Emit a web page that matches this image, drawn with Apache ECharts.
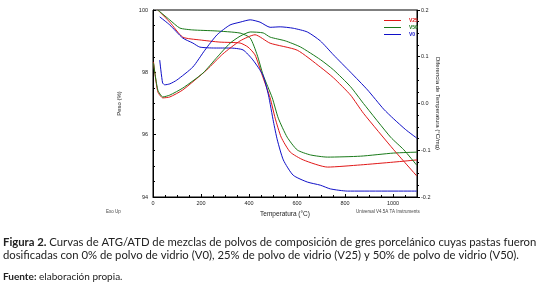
<!DOCTYPE html>
<html>
<head>
<meta charset="utf-8">
<script src="https://cdn.jsdelivr.net/npm/echarts@6/dist/echarts.min.js"></script>
<style>
  html, body { margin: 0; padding: 0; background: #fff; }
  #chart { width: 541px; height: 290px; }
</style>
</head>
<body>
<div id="chart"></div>
<script>
// ATG (peso %) - eje izquierdo
var tgV0T  = [28, 70, 124, 166, 195, 258, 321, 375, 416, 458, 481, 502, 518, 543, 584, 643, 697, 739, 810, 1099];
var tgV0   = [99.78, 99.52, 99.10, 98.94, 98.81, 98.78, 98.78, 98.72, 98.40, 97.91, 97.27, 96.41, 95.83, 95.19, 94.70, 94.48, 94.38, 94.26, 94.19, 94.19];
var tgV25T = [20, 70, 124, 195, 279, 363, 396, 425, 455, 488, 509, 534, 572, 626, 727, 865, 1003, 1100];
var tgV25  = [100.0, 99.61, 99.13, 99.04, 98.97, 98.94, 98.81, 98.56, 97.91, 97.18, 96.53, 95.92, 95.44, 95.19, 94.96, 95.03, 95.12, 95.19];
var tgV50T = [20, 70, 112, 166, 258, 363, 405, 434, 459, 497, 522, 559, 601, 656, 727, 865, 1003, 1100];
var tgV50  = [100.0, 99.68, 99.42, 99.36, 99.33, 99.26, 99.10, 98.56, 97.91, 97.18, 96.53, 95.92, 95.51, 95.35, 95.28, 95.31, 95.41, 95.44];

// ATD (diferencia de temperatura) - eje derecho
var dtaV0T  = [28, 40, 49, 70, 99, 166, 216, 267, 321, 363, 405, 446, 488, 530, 584, 643, 697, 752, 823, 894, 961, 1003, 1053, 1099];
var dtaV0   = [0.093, 0.044, 0.040, 0.042, 0.050, 0.078, 0.114, 0.147, 0.168, 0.174, 0.179, 0.174, 0.163, 0.164, 0.161, 0.153, 0.134, 0.104, 0.067, 0.029, -0.012, -0.033, -0.056, -0.074];
var dtaV25T = [2, 20, 41, 70, 124, 224, 291, 363, 425, 488, 601, 697, 752, 823, 877, 1003, 1099];
var dtaV25  = [0.089, 0.025, 0.012, 0.014, 0.029, 0.072, 0.106, 0.134, 0.147, 0.129, 0.114, 0.078, 0.055, 0.018, -0.021, -0.099, -0.155];
var dtaV50T = [2, 20, 41, 70, 124, 208, 267, 321, 363, 405, 459, 488, 551, 614, 697, 752, 823, 877, 990, 1045, 1099];
var dtaV50  = [0.087, 0.029, 0.014, 0.018, 0.033, 0.065, 0.099, 0.129, 0.144, 0.153, 0.151, 0.142, 0.134, 0.121, 0.094, 0.072, 0.036, 0.000, -0.072, -0.099, -0.132];

var pesoTicks = [94, 96, 98, 100];
var difTicks  = [-0.2, -0.1, 0.0, 0.1, 0.2];

var colV0 = '#1010c8', colV25 = '#e01818', colV50 = '#1a7a1a';

function pairs(t, v) {
    return t.map(function (x, i) { return [x, v[i]]; });
}

function serie(name, t, v, color, yIdx) {
    return {
        name: name,
        type: 'line',
        yAxisIndex: yIdx,
        showSymbol: false,
        smooth: 0.2,
        lineStyle: { color: color, width: 1 },
        itemStyle: { color: color },
        data: pairs(t, v),
        animation: false
    };
}

var myChart = echarts.init(document.getElementById('chart'));
var axisTxt = { color: '#222', fontSize: 5.5, fontFamily: 'Liberation Sans' };

var option = {
    backgroundColor: '#fff',
    grid: {
        left: 153, right: 124, top: 10, bottom: 93,
        show: true, borderColor: '#000', borderWidth: 1
    },
    legend: {
        orient: 'vertical',
        left: 379, top: 13,
        itemWidth: 17, itemHeight: 1,
        itemGap: 2,
        icon: 'rect',
        textStyle: { fontSize: 5, fontFamily: 'Liberation Sans', fontWeight: 'bold', padding: [0, 0, 0, 3] },
        data: [
            { name: 'V25', textStyle: { color: colV25 } },
            { name: 'V50', textStyle: { color: colV50 } },
            { name: 'V0', textStyle: { color: colV0 } }
        ]
    },
    xAxis: {
        type: 'value',
        min: 0, max: 1100, interval: 200,
        name: 'Temperatura (°C)',
        nameLocation: 'middle',
        nameGap: 14,
        nameTextStyle: { color: '#222', fontSize: 6.5, fontFamily: 'Liberation Sans' },
        axisLine: { onZero: false, lineStyle: { color: '#000' } },
        axisTick: { inside: true, length: 3, lineStyle: { color: '#000' } },
        minorTick: { show: true, splitNumber: 4, length: 2, lineStyle: { color: '#000' } },
        axisLabel: Object.assign({
            margin: 3, showMaxLabel: false,
            formatter: function (v) { return String(v); }
        }, axisTxt),
        splitLine: { show: false }
    },
    yAxis: [{
        type: 'value',
        min: pesoTicks[0], max: pesoTicks[pesoTicks.length - 1], interval: 2,
        name: 'Peso (%)',
        nameLocation: 'middle',
        nameGap: 31,
        nameRotate: 90,
        nameTextStyle: { color: '#222', fontSize: 6, fontFamily: 'Liberation Sans' },
        axisLine: { show: true, onZero: false, lineStyle: { color: '#000' } },
        axisTick: { inside: true, length: 3, lineStyle: { color: '#000' } },
        minorTick: { show: true, splitNumber: 4, length: 2, lineStyle: { color: '#000' } },
        axisLabel: Object.assign({ margin: 5 }, axisTxt),
        splitLine: { show: false }
    }, {
        type: 'value',
        position: 'right',
        min: difTicks[0], max: difTicks[difTicks.length - 1], interval: 0.1,
        name: 'Diferencia de Temperatura (°C/mg)',
        nameLocation: 'middle',
        nameGap: 18,
        nameRotate: -90,
        nameTextStyle: { color: '#222', fontSize: 6, fontFamily: 'Liberation Sans' },
        axisLine: { show: true, onZero: false, lineStyle: { color: '#000' } },
        axisTick: { inside: false, length: 3, lineStyle: { color: '#000' } },
        minorTick: { show: true, splitNumber: 4, length: 2, lineStyle: { color: '#000' } },
        axisLabel: Object.assign({
            margin: 4,
            formatter: function (v) { return (Math.abs(v) < 1e-9 ? 0 : v).toFixed(1); }
        }, axisTxt),
        splitLine: { show: false }
    }],
    graphic: [
        { type: 'text', left: 106, top: 209, style: { text: 'Exo Up', fontSize: 4.5, fill: '#444', fontFamily: 'Liberation Sans' } },
        { type: 'text', left: 356, top: 209, style: { text: 'Universal V4.5A TA Instruments', fontSize: 4.5, fill: '#444', fontFamily: 'Liberation Sans' } },
        {
            type: 'text', left: 3, top: 236,
            style: {
                text: '{b|Figura 2.} Curvas de ATG/ATD de mezclas de polvos de composición de gres porcelánico cuyas pastas fueron\ndosificadas con 0% de polvo de vidrio (V0), 25% de polvo de vidrio (V25) y 50% de polvo de vidrio (V50).',
                fontSize: 11.3, lineHeight: 13, fill: '#222', fontFamily: 'Lato',
                rich: { b: { fontWeight: 'bold', fontSize: 11.3, fontFamily: 'Lato', fill: '#222' } }
            }
        },
        {
            type: 'text', left: 3, top: 272,
            style: {
                text: '{b|Fuente:} elaboración propia.',
                fontSize: 10, fill: '#222', fontFamily: 'Lato',
                rich: { b: { fontWeight: 'bold', fontSize: 10, fontFamily: 'Lato', fill: '#222' } }
            }
        }
    ],
    series: [
        serie('V25', tgV25T, tgV25, colV25, 0),
        serie('V50', tgV50T, tgV50, colV50, 0),
        serie('V0', tgV0T, tgV0, colV0, 0),
        serie('V25', dtaV25T, dtaV25, colV25, 1),
        serie('V50', dtaV50T, dtaV50, colV50, 1),
        serie('V0', dtaV0T, dtaV0, colV0, 1)
    ]
};
myChart.setOption(option);
window.addEventListener('resize', function () {
    myChart.resize();
});
</script>
</body>
</html>
